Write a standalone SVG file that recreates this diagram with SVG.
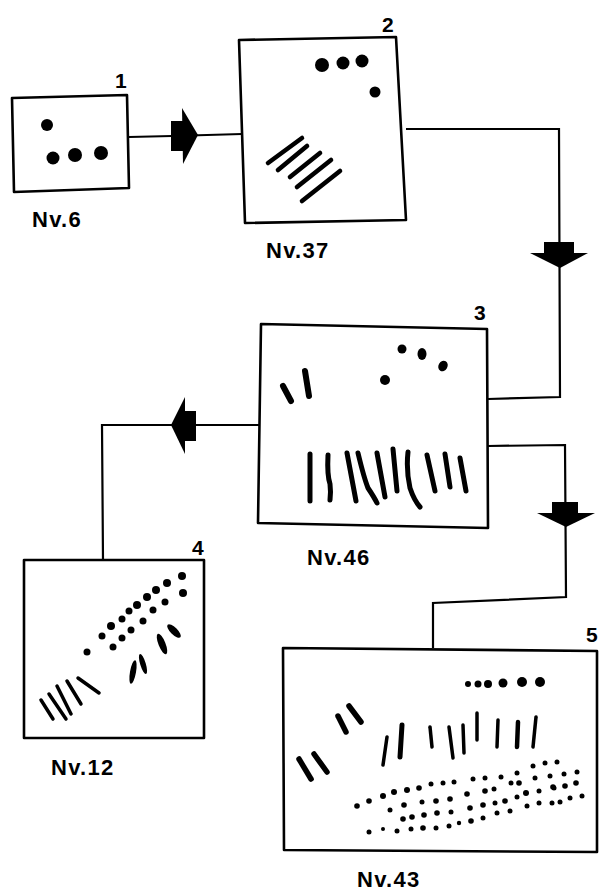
<svg xmlns="http://www.w3.org/2000/svg" width="599" height="893" viewBox="0 0 599 893">
  <style>
    .frame { fill: #fff; stroke: #000; stroke-width: 2.6; stroke-linejoin: round; }
    .wire { fill: none; stroke: #000; stroke-width: 2.2; stroke-linejoin: miter; }
    .head { fill: #000; stroke: none; }
    .mk { stroke: #000; stroke-linecap: round; fill: none; }
    .num { font-family: "Liberation Sans", Arial, sans-serif; font-weight: bold; font-size: 21px; fill: #000; }
    .cap { font-family: "Liberation Sans", Arial, sans-serif; font-weight: bold; font-size: 22px; letter-spacing: 1.3px; fill: #000; }
    circle { fill: #000; }
  </style>

  <g id="connectors">
    <!-- 1 -> 2 -->
    <polyline class="wire" points="129,137 172,136 242,134"/>
    <rect class="head" x="171" y="121" width="13" height="30"/>
    <polygon class="head" points="182,108 198,135 183,164"/>
    <!-- 2 -> 3 -->
    <polyline class="wire" points="406,129 559,129 560,397 488,399"/>
    <rect class="head" x="544" y="242" width="30" height="12"/>
    <polygon class="head" points="530,253 588,253 560,268"/>
    <!-- 3 -> 4 -->
    <polyline class="wire" points="259,425 102,425 103,560"/>
    <rect class="head" x="184" y="411" width="12" height="30"/>
    <polygon class="head" points="171,425 185,397 185,454"/>
    <!-- 3 -> 5 -->
    <polyline class="wire" points="488,446 565,445 566,597 433,603 433,648"/>
    <rect class="head" x="552" y="502" width="26" height="12"/>
    <polygon class="head" points="537,513 595,513 566,527"/>
  </g>

  <g id="node1">
    <polygon class="frame" points="12,98 127,95 129,188 14,192"/>
    <text class="num" x="115" y="88">1</text>
    <circle cx="47" cy="125" r="6"/>
    <circle cx="53" cy="158" r="6.5"/>
    <circle cx="75" cy="155" r="7"/>
    <circle cx="101" cy="153" r="7"/>
    <text class="cap" x="32" y="227">Nv.6</text>
  </g>

  <g id="node2">
    <polygon class="frame" points="239,40 396,37 406,220 245,223"/>
    <text class="num" x="382" y="32">2</text>
    <circle cx="322" cy="65" r="7"/>
    <circle cx="343" cy="63" r="6.5"/>
    <circle cx="362" cy="61" r="6.5"/>
    <circle cx="375" cy="92" r="5.5"/>
    <g class="mk" stroke-width="4.6">
      <line x1="268" y1="163" x2="302" y2="138"/>
      <line x1="278" y1="170" x2="307" y2="146"/>
      <line x1="290" y1="177" x2="320" y2="153"/>
      <line x1="297" y1="187" x2="331" y2="160"/>
      <line x1="302" y1="201" x2="340" y2="171"/>
    </g>
    <text class="cap" x="266" y="258">Nv.37</text>
  </g>

  <g id="node3">
    <polygon class="frame" points="261,324 487,329 488,528 258,523"/>
    <text class="num" x="474" y="320">3</text>
    <circle cx="402" cy="349" r="4.5"/>
    <ellipse cx="422" cy="354" rx="4.5" ry="6"/>
    <ellipse cx="443" cy="366" rx="4.5" ry="5.5" transform="rotate(30 443 366)"/>
    <circle cx="385" cy="380" r="5"/>
    <g class="mk" stroke-width="6">
      <line x1="283" y1="386" x2="291" y2="401"/>
      <line x1="305" y1="371" x2="309" y2="396"/>
    </g>
    <g class="mk" stroke-width="5">
      <line x1="310" y1="454" x2="310" y2="501"/>
      <path d="M328,455 Q327,475 330,484 Q331,492 330,500"/>
      <line x1="347" y1="453" x2="356" y2="501"/>
      <path d="M358,453 Q364,478 368,488 Q374,497 377,503"/>
      <line x1="377" y1="453" x2="385" y2="497"/>
      <line x1="393" y1="449" x2="397" y2="491"/>
      <path d="M408,452 Q406,470 410,488 Q414,500 420,507"/>
      <line x1="427" y1="455" x2="435" y2="491"/>
      <line x1="445" y1="454" x2="450" y2="487"/>
      <line x1="460" y1="458" x2="466" y2="491"/>
    </g>
    <text class="cap" x="307" y="565">Nv.46</text>
  </g>

  <g id="node4">
    <polygon class="frame" points="24,560 204,560 204,738 24,738"/>
    <text class="num" x="192" y="555">4</text>
    <circle cx="182" cy="576" r="4"/>
    <circle cx="167" cy="583" r="4"/>
    <circle cx="156" cy="590" r="4"/>
    <circle cx="147" cy="597" r="4"/>
    <circle cx="137" cy="605" r="4"/>
    <circle cx="129" cy="611" r="3.5"/>
    <circle cx="122" cy="619" r="3.5"/>
    <circle cx="111" cy="626" r="4"/>
    <circle cx="102" cy="636" r="3.5"/>
    <circle cx="183" cy="593" r="4"/>
    <circle cx="165" cy="602" r="3.5"/>
    <circle cx="153" cy="610" r="3.5"/>
    <circle cx="143" cy="621" r="3.5"/>
    <circle cx="131" cy="630" r="3.5"/>
    <circle cx="122" cy="638" r="3.5"/>
    <circle cx="113" cy="647" r="3.5"/>
    <circle cx="87" cy="652" r="3.5"/>
    <ellipse cx="174" cy="631" rx="3.5" ry="9" transform="rotate(-45 174 631)"/>
    <ellipse cx="162" cy="644" rx="3.5" ry="11" transform="rotate(-22 162 644)"/>
    <ellipse cx="143" cy="664" rx="2.8" ry="10.5" transform="rotate(-17 143 664)"/>
    <ellipse cx="133" cy="672" rx="3" ry="12" transform="rotate(10 133 672)"/>
    <g class="mk" stroke-width="3.5">
      <line x1="41" y1="700" x2="53" y2="719"/>
      <line x1="49" y1="694" x2="66" y2="719"/>
      <line x1="57" y1="686" x2="71" y2="714"/>
      <line x1="67" y1="681" x2="81" y2="704"/>
      <line x1="78" y1="678" x2="99" y2="693"/>
    </g>
    <text class="cap" x="51" y="775">Nv.12</text>
  </g>

  <g id="node5">
    <polygon class="frame" points="283,648 597,651 597,852 284,850"/>
    <text class="num" x="586" y="642">5</text>
    <circle cx="468" cy="684" r="3"/>
    <circle cx="478" cy="684" r="3.5"/>
    <circle cx="488" cy="684" r="4"/>
    <circle cx="503" cy="683" r="4.5"/>
    <circle cx="522" cy="682" r="5"/>
    <circle cx="540" cy="682" r="5"/>
    <g class="mk" stroke-width="5.5">
      <line x1="338" y1="716" x2="346" y2="732"/>
      <line x1="349" y1="706" x2="361" y2="722"/>
      <line x1="299" y1="759" x2="311" y2="779"/>
      <line x1="314" y1="754" x2="327" y2="772"/>
    </g>
    <g class="mk" stroke-width="3.5">
      <line x1="387" y1="737" x2="383" y2="765"/>
      <line x1="402" y1="725" x2="400" y2="757" stroke-width="5"/>
      <line x1="430" y1="727" x2="432" y2="747"/>
      <line x1="449" y1="727" x2="453" y2="758"/>
      <line x1="463" y1="725" x2="464" y2="753"/>
      <line x1="477" y1="713" x2="477" y2="740"/>
      <line x1="498" y1="720" x2="497" y2="747"/>
      <line x1="518" y1="722" x2="517" y2="747" stroke-width="4.5"/>
      <line x1="536" y1="717" x2="533" y2="747"/>
    </g>
    <g id="stipple">
      <circle cx="533" cy="766" r="2.5"/><circle cx="545" cy="763" r="2.5"/><circle cx="557" cy="762" r="2.5"/>
      <circle cx="357" cy="806" r="2.8"/><circle cx="369" cy="801" r="2.8"/><circle cx="383" cy="796" r="3"/><circle cx="394" cy="792" r="3"/><circle cx="407" cy="790" r="3"/><circle cx="419" cy="788" r="2.8"/><circle cx="431" cy="784" r="2.5"/><circle cx="443" cy="783" r="2.5"/><circle cx="454" cy="782" r="2.5"/><circle cx="473" cy="779" r="2.5"/><circle cx="485" cy="778" r="2.5"/><circle cx="501" cy="777" r="2.5"/><circle cx="517" cy="773" r="2.5"/><circle cx="535" cy="778" r="2.5"/><circle cx="550" cy="776" r="2.5"/><circle cx="564" cy="774" r="2.5"/><circle cx="577" cy="772" r="2.5"/>
      <circle cx="390" cy="810" r="2.5"/><circle cx="404" cy="805" r="2.8"/><circle cx="422" cy="802" r="2.5"/><circle cx="436" cy="801" r="2.8"/><circle cx="450" cy="799" r="2.8"/><circle cx="467" cy="794" r="2.8"/><circle cx="485" cy="791" r="2.8"/><circle cx="494" cy="789" r="2.5"/><circle cx="511" cy="783" r="2.5"/><circle cx="519" cy="783" r="2.8"/><circle cx="553" cy="787" r="2.8"/><circle cx="565" cy="786" r="2.8"/><circle cx="576" cy="783" r="2.8"/>
      <circle cx="403" cy="819" r="2.8"/><circle cx="412" cy="817" r="2.8"/><circle cx="424" cy="815" r="2.8"/><circle cx="437" cy="813" r="2.8"/><circle cx="451" cy="812" r="2.5"/><circle cx="470" cy="808" r="2.8"/><circle cx="483" cy="805" r="2.8"/><circle cx="495" cy="803" r="2.5"/><circle cx="505" cy="801" r="2.8"/><circle cx="517" cy="797" r="2.5"/><circle cx="526" cy="793" r="3"/><circle cx="539" cy="791" r="2.5"/><circle cx="554" cy="788" r="2.5"/>
      <circle cx="369" cy="832" r="2.5"/><circle cx="383" cy="829" r="2"/><circle cx="397" cy="831" r="2.5"/><circle cx="411" cy="829" r="2.5"/><circle cx="423" cy="828" r="2.8"/><circle cx="436" cy="828" r="2.5"/><circle cx="449" cy="826" r="2.5"/><circle cx="459" cy="823" r="2.2"/><circle cx="471" cy="821" r="2.8"/><circle cx="483" cy="818" r="2.5"/><circle cx="497" cy="813" r="2.5"/><circle cx="510" cy="811" r="2.5"/><circle cx="527" cy="806" r="2.5"/><circle cx="539" cy="803" r="2.5"/><circle cx="552" cy="803" r="2.5"/><circle cx="560" cy="802" r="2.5"/><circle cx="570" cy="798" r="2.5"/><circle cx="582" cy="796" r="2.5"/>
    </g>
    <text class="cap" x="357" y="887">Nv.43</text>
  </g>
</svg>
